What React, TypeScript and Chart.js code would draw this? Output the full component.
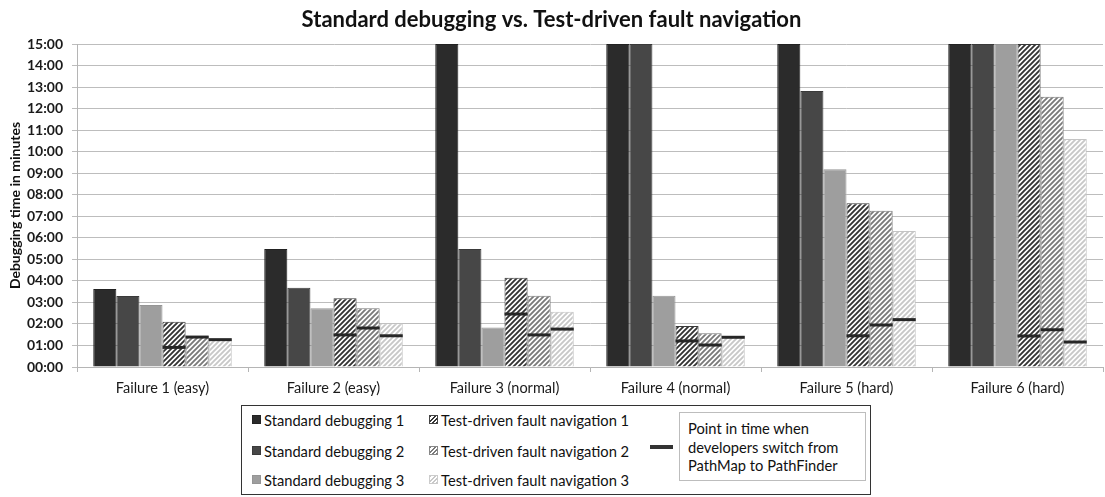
import React, { useEffect, useRef } from "react";
import { Chart, registerables } from "chart.js";
Chart.register(...registerables);

const categories = [
  "Failure 1 (easy)",
  "Failure 2 (easy)",
  "Failure 3 (normal)",
  "Failure 4 (normal)",
  "Failure 5 (hard)",
  "Failure 6 (hard)",
];
const standard1 = [3.62, 5.48, 15, 15, 15, 15];
const standard2 = [3.3, 3.68, 5.48, 15, 12.82, 15];
const standard3 = [2.88, 2.73, 1.83, 3.31, 9.18, 15];
const testDriven1 = [2.1, 3.19, 4.15, 1.9, 7.6, 15];
const testDriven2 = [1.44, 2.73, 3.31, 1.57, 7.26, 12.55];
const testDriven3 = [1.3, 2.03, 2.57, 1.44, 6.32, 10.59];
const switch1 = [0.91, 1.49, 2.46, 1.21, 1.45, 1.44];
const switch2 = [1.39, 1.81, 1.49, 1.02, 1.95, 1.73];
const switch3 = [1.27, 1.45, 1.76, 1.38, 2.2, 1.16];
const yTickLabels = [
  "00:00", "01:00", "02:00", "03:00", "04:00", "05:00", "06:00", "07:00",
  "08:00", "09:00", "10:00", "11:00", "12:00", "13:00", "14:00", "15:00",
];
const seriesNames = [
  "Standard debugging 1",
  "Standard debugging 2",
  "Standard debugging 3",
  "Test-driven fault navigation 1",
  "Test-driven fault navigation 2",
  "Test-driven fault navigation 3",
];
const switchNote = ["Point in time when", "developers switch from", "PathMap to PathFinder"];

const FONT = "Lato, 'Open Sans', sans-serif";

function makeHatch(stripe: string): CanvasPattern | string {
  const size = 5;
  const c = document.createElement("canvas");
  c.width = size;
  c.height = size;
  const g = c.getContext("2d");
  if (!g) return stripe;
  g.fillStyle = "#ffffff";
  g.fillRect(0, 0, size, size);
  g.strokeStyle = stripe;
  g.lineWidth = 1.9;
  g.beginPath();
  g.moveTo(0, size);
  g.lineTo(size, 0);
  g.moveTo(-1, 1);
  g.lineTo(1, -1);
  g.moveTo(size - 1, size + 1);
  g.lineTo(size + 1, size - 1);
  g.stroke();
  const p = g.createPattern(c, "repeat");
  return p || stripe;
}

const markerPlugin = {
  id: "switchMarkers",
  afterDatasetsDraw(chart: any) {
    const ctx = chart.ctx;
    const yScale = chart.scales.y;
    const sets = [
      { idx: 3, vals: switch1 },
      { idx: 4, vals: switch2 },
      { idx: 5, vals: switch3 },
    ];
    ctx.save();
    ctx.strokeStyle = "#262626";
    ctx.lineWidth = 3;
    sets.forEach(({ idx, vals }) => {
      const meta = chart.getDatasetMeta(idx);
      meta.data.forEach((bar: any, i: number) => {
        const { x, width } = bar.getProps(["x", "width"], true);
        const y = yScale.getPixelForValue(vals[i]);
        ctx.beginPath();
        ctx.moveTo(x - width / 2, y);
        ctx.lineTo(x + width / 2, y);
        ctx.stroke();
      });
    });
    ctx.restore();
  },
};

export default function App() {
  const ref = useRef<HTMLCanvasElement | null>(null);

  useEffect(() => {
    if (!ref.current) return;
    Chart.defaults.font.family = FONT;
    Chart.defaults.color = "#1e1e1e";
    const h1 = makeHatch("#333333");
    const h2 = makeHatch("#7a7a7a");
    const h3 = makeHatch("#c8c8c8");
    const chart = new Chart(ref.current, {
      type: "bar",
      data: {
        labels: categories,
        datasets: [
          { label: seriesNames[0], data: standard1, backgroundColor: "#2b2b2b", borderColor: "#222", borderWidth: 1 },
          { label: seriesNames[1], data: standard2, backgroundColor: "#474747", borderColor: "#3a3a3a", borderWidth: 1 },
          { label: seriesNames[2], data: standard3, backgroundColor: "#9e9e9e", borderColor: "#959595", borderWidth: 1 },
          { label: seriesNames[3], data: testDriven1, backgroundColor: h1 as any, borderColor: "#3a3a3a", borderWidth: 1 },
          { label: seriesNames[4], data: testDriven2, backgroundColor: h2 as any, borderColor: "#777", borderWidth: 1 },
          { label: seriesNames[5], data: testDriven3, backgroundColor: h3 as any, borderColor: "#c4c4c4", borderWidth: 1 },
        ],
      },
      options: {
        responsive: false,
        animation: false,
        devicePixelRatio: 1,
        layout: { padding: { left: 0, right: 2, top: 0, bottom: 0 } },
        datasets: {
          bar: { categoryPercentage: 0.81, barPercentage: 1.0 },
        },
        plugins: {
          legend: { display: false },
          tooltip: { enabled: false },
          title: {
            display: true,
            text: "Standard debugging vs. Test-driven fault navigation",
            font: { size: 22, weight: "bold", family: FONT },
            color: "#111",
            padding: { top: 7, bottom: 10.6 },
          },
        },
        scales: {
          x: {
            grid: {
              drawOnChartArea: false,
              drawTicks: true,
              tickLength: 5,
              color: "#b5b5b5",
              offset: true,
            },
            border: { color: "#b5b5b5", width: 1 },
            ticks: { font: { size: 14.5, family: FONT }, color: "#1a1a1a", padding: 8, maxRotation: 0 },
            afterFit: (s: any) => {
              s.height = 33;
            },
          },
          y: {
            min: 0,
            max: 15,
            grid: { color: "#bdbdbd", lineWidth: 1, tickLength: 5 },
            border: { color: "#b5b5b5", width: 1 },
            ticks: {
              stepSize: 1,
              padding: 9,
              font: { size: 14, weight: "bold", family: FONT },
              color: "#1a1a1a",
              callback: (v: any) => yTickLabels[Number(v)] ?? "",
            },
            title: {
              display: true,
              text: "Debugging time in minutes",
              font: { size: 14, weight: "bold", family: FONT },
              color: "#111",
              padding: { top: 7, bottom: 0 },
            },
            afterFit: (s: any) => {
              s.width = 77;
            },
          },
        },
      },
      plugins: [markerPlugin],
    });
    return () => chart.destroy();
  }, []);

  const swatch = (bg: string, border: string) => ({
    position: "absolute" as const,
    width: 9,
    height: 9,
    background: bg,
    border: `1px solid ${border}`,
    boxSizing: "border-box" as const,
  });
  const hatchCss = (c: string) =>
    `repeating-linear-gradient(135deg, ${c} 0px, ${c} 1.3px, #ffffff 1.3px, #ffffff 3px)`;
  const textStyle = {
    position: "absolute" as const,
    fontFamily: FONT,
    fontSize: 14.7,
    color: "#111",
    whiteSpace: "nowrap" as const,
    lineHeight: "16px",
  };
  const rows = [420, 450.5, 480];
  const col1 = [
    { bg: "#2b2b2b", bd: "#222" },
    { bg: "#474747", bd: "#3a3a3a" },
    { bg: "#9e9e9e", bd: "#959595" },
  ];
  const col2 = [
    { bg: hatchCss("#333"), bd: "#444" },
    { bg: hatchCss("#7a7a7a"), bd: "#888" },
    { bg: hatchCss("#c8c8c8"), bd: "#ccc" },
  ];

  return (
    <div style={{ position: "absolute", left: 0, top: 0, width: 1105, height: 497, overflow: "hidden", background: "#fff" }}>
      <canvas ref={ref} width={1105} height={400} style={{ position: "absolute", left: 0, top: 0, width: 1105, height: 400 }} />
      <div
        style={{
          position: "absolute",
          left: 241,
          top: 405,
          width: 630,
          height: 90,
          border: "1.5px solid #333",
          boxSizing: "border-box",
        }}
      />
      {col1.map((c, i) => (
        <React.Fragment key={"c1" + i}>
          <div style={{ ...swatch(c.bg, c.bd), left: 252, top: rows[i] - 5 }} />
          <div style={{ ...textStyle, left: 264, top: rows[i] - 8 }}>{seriesNames[i]}</div>
        </React.Fragment>
      ))}
      {col2.map((c, i) => (
        <React.Fragment key={"c2" + i}>
          <div style={{ ...swatch(c.bg, c.bd), left: 429, top: rows[i] - 5 }} />
          <div style={{ ...textStyle, left: 441, top: rows[i] - 8 }}>{seriesNames[i + 3]}</div>
        </React.Fragment>
      ))}
      <div style={{ position: "absolute", left: 650, top: 445, width: 23, height: 4, background: "#333" }} />
      <div
        style={{
          position: "absolute",
          left: 679,
          top: 412,
          width: 187,
          height: 69,
          border: "1px solid #bdbdbd",
          boxSizing: "border-box",
        }}
      />
      {switchNote.map((t, i) => (
        <div key={"n" + i} style={{ ...textStyle, left: 688, top: 420 + i * 18.5 }}>
          {t}
        </div>
      ))}
    </div>
  );
}
